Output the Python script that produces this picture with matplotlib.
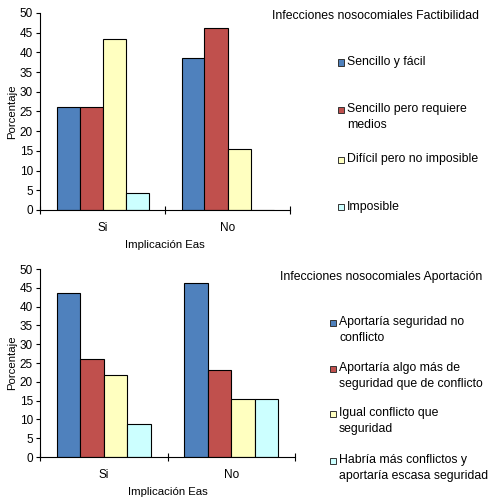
import matplotlib
import numpy as np

matplotlib.use("Agg")
matplotlib.rcParams["font.family"] = ["Liberation Sans", "DejaVu Sans"]
import matplotlib.pyplot as plt  # noqa: E402
from matplotlib.patches import Rectangle  # noqa: E402

CATEGORIES = ["Si", "No"]
COLORS = ["#4F81BD", "#C0504D", "#FFFFC0", "#CCFFFF"]

TITLE_TOP = "Infecciones nosocomiales Factibilidad"
LABELS_TOP = ["Sencillo y fácil", "Sencillo pero requiere\nmedios",
              "Difícil pero no imposible", "Imposible"]
VALUES_TOP = [[26.1, 38.5], [26.1, 46.2], [43.5, 15.4], [4.3, 0.0]]

TITLE_BOT = "Infecciones nosocomiales Aportación"
LABELS_BOT = ["Aportaría seguridad no\nconflicto",
              "Aportaría algo más de\nseguridad que de conflicto",
              "Igual conflicto que\nseguridad",
              "Habría más conflictos y\naportaría escasa seguridad"]
VALUES_BOT = [[43.5, 46.2], [26.1, 23.1], [21.7, 15.4], [8.7, 15.4]]

W, H = 494, 500


def panel(fig, rect, values, title, labels, title_x, title_y, leg_x, leg_ys):
    ax = fig.add_axes(rect)
    n = len(values)
    bw = 0.184
    x = np.arange(len(CATEGORIES)) + 0.5
    for i, vals in enumerate(values):
        ax.bar(x + (i - (n - 1) / 2) * bw, vals, bw, color=COLORS[i],
               edgecolor="black", linewidth=0.8)
    ax.set_xlim(0, len(CATEGORIES))
    ax.set_ylim(0, 50)
    ax.set_yticks(range(0, 51, 5))
    ax.set_xticks(range(len(CATEGORIES) + 1))
    ax.set_xticklabels([])
    ax.set_xticks(x, minor=True)
    ax.set_xticklabels(CATEGORIES, minor=True)
    ax.tick_params(axis="x", which="minor", length=0, pad=9, labelsize=8.5)
    ax.tick_params(axis="x", which="major", direction="inout", length=6)
    ax.tick_params(axis="y", direction="out", length=3, labelsize=8.5, pad=2)
    for s in ("top", "right"):
        ax.spines[s].set_visible(False)
    ax.set_ylabel("Porcentaje", fontsize=8.2, labelpad=2)
    ax.set_xlabel("Implicación Eas", fontsize=8.2, labelpad=4)

    fig.text(title_x / W, 1 - title_y / H, title, fontsize=8.8,
             ha="center", va="center")
    for i, (lab, ly) in enumerate(zip(labels, leg_ys)):
        yf = 1 - ly / H
        fig.add_artist(Rectangle((leg_x / W, yf - 3.5 / H), 6 / W, 6 / H,
                                 transform=fig.transFigure, facecolor=COLORS[i],
                                 edgecolor="#333333", linewidth=0.7))
        fig.text((leg_x + 9) / W, yf + 6 / H, lab, fontsize=8.8, ha="left",
                 va="top", linespacing=1.4)
    return ax


fig = plt.figure(figsize=(W / 100, H / 100), dpi=100)
panel(fig, [40 / W, 1 - 210 / H, 250 / W, 197 / H], VALUES_TOP, TITLE_TOP,
      LABELS_TOP, 376, 16, 338, [62, 109, 159, 207])
panel(fig, [40 / W, 1 - 457 / H, 255 / W, 188 / H], VALUES_BOT, TITLE_BOT,
      LABELS_BOT, 381, 277, 330, [322, 368, 413, 460])
fig.savefig("out.png", dpi=100)
